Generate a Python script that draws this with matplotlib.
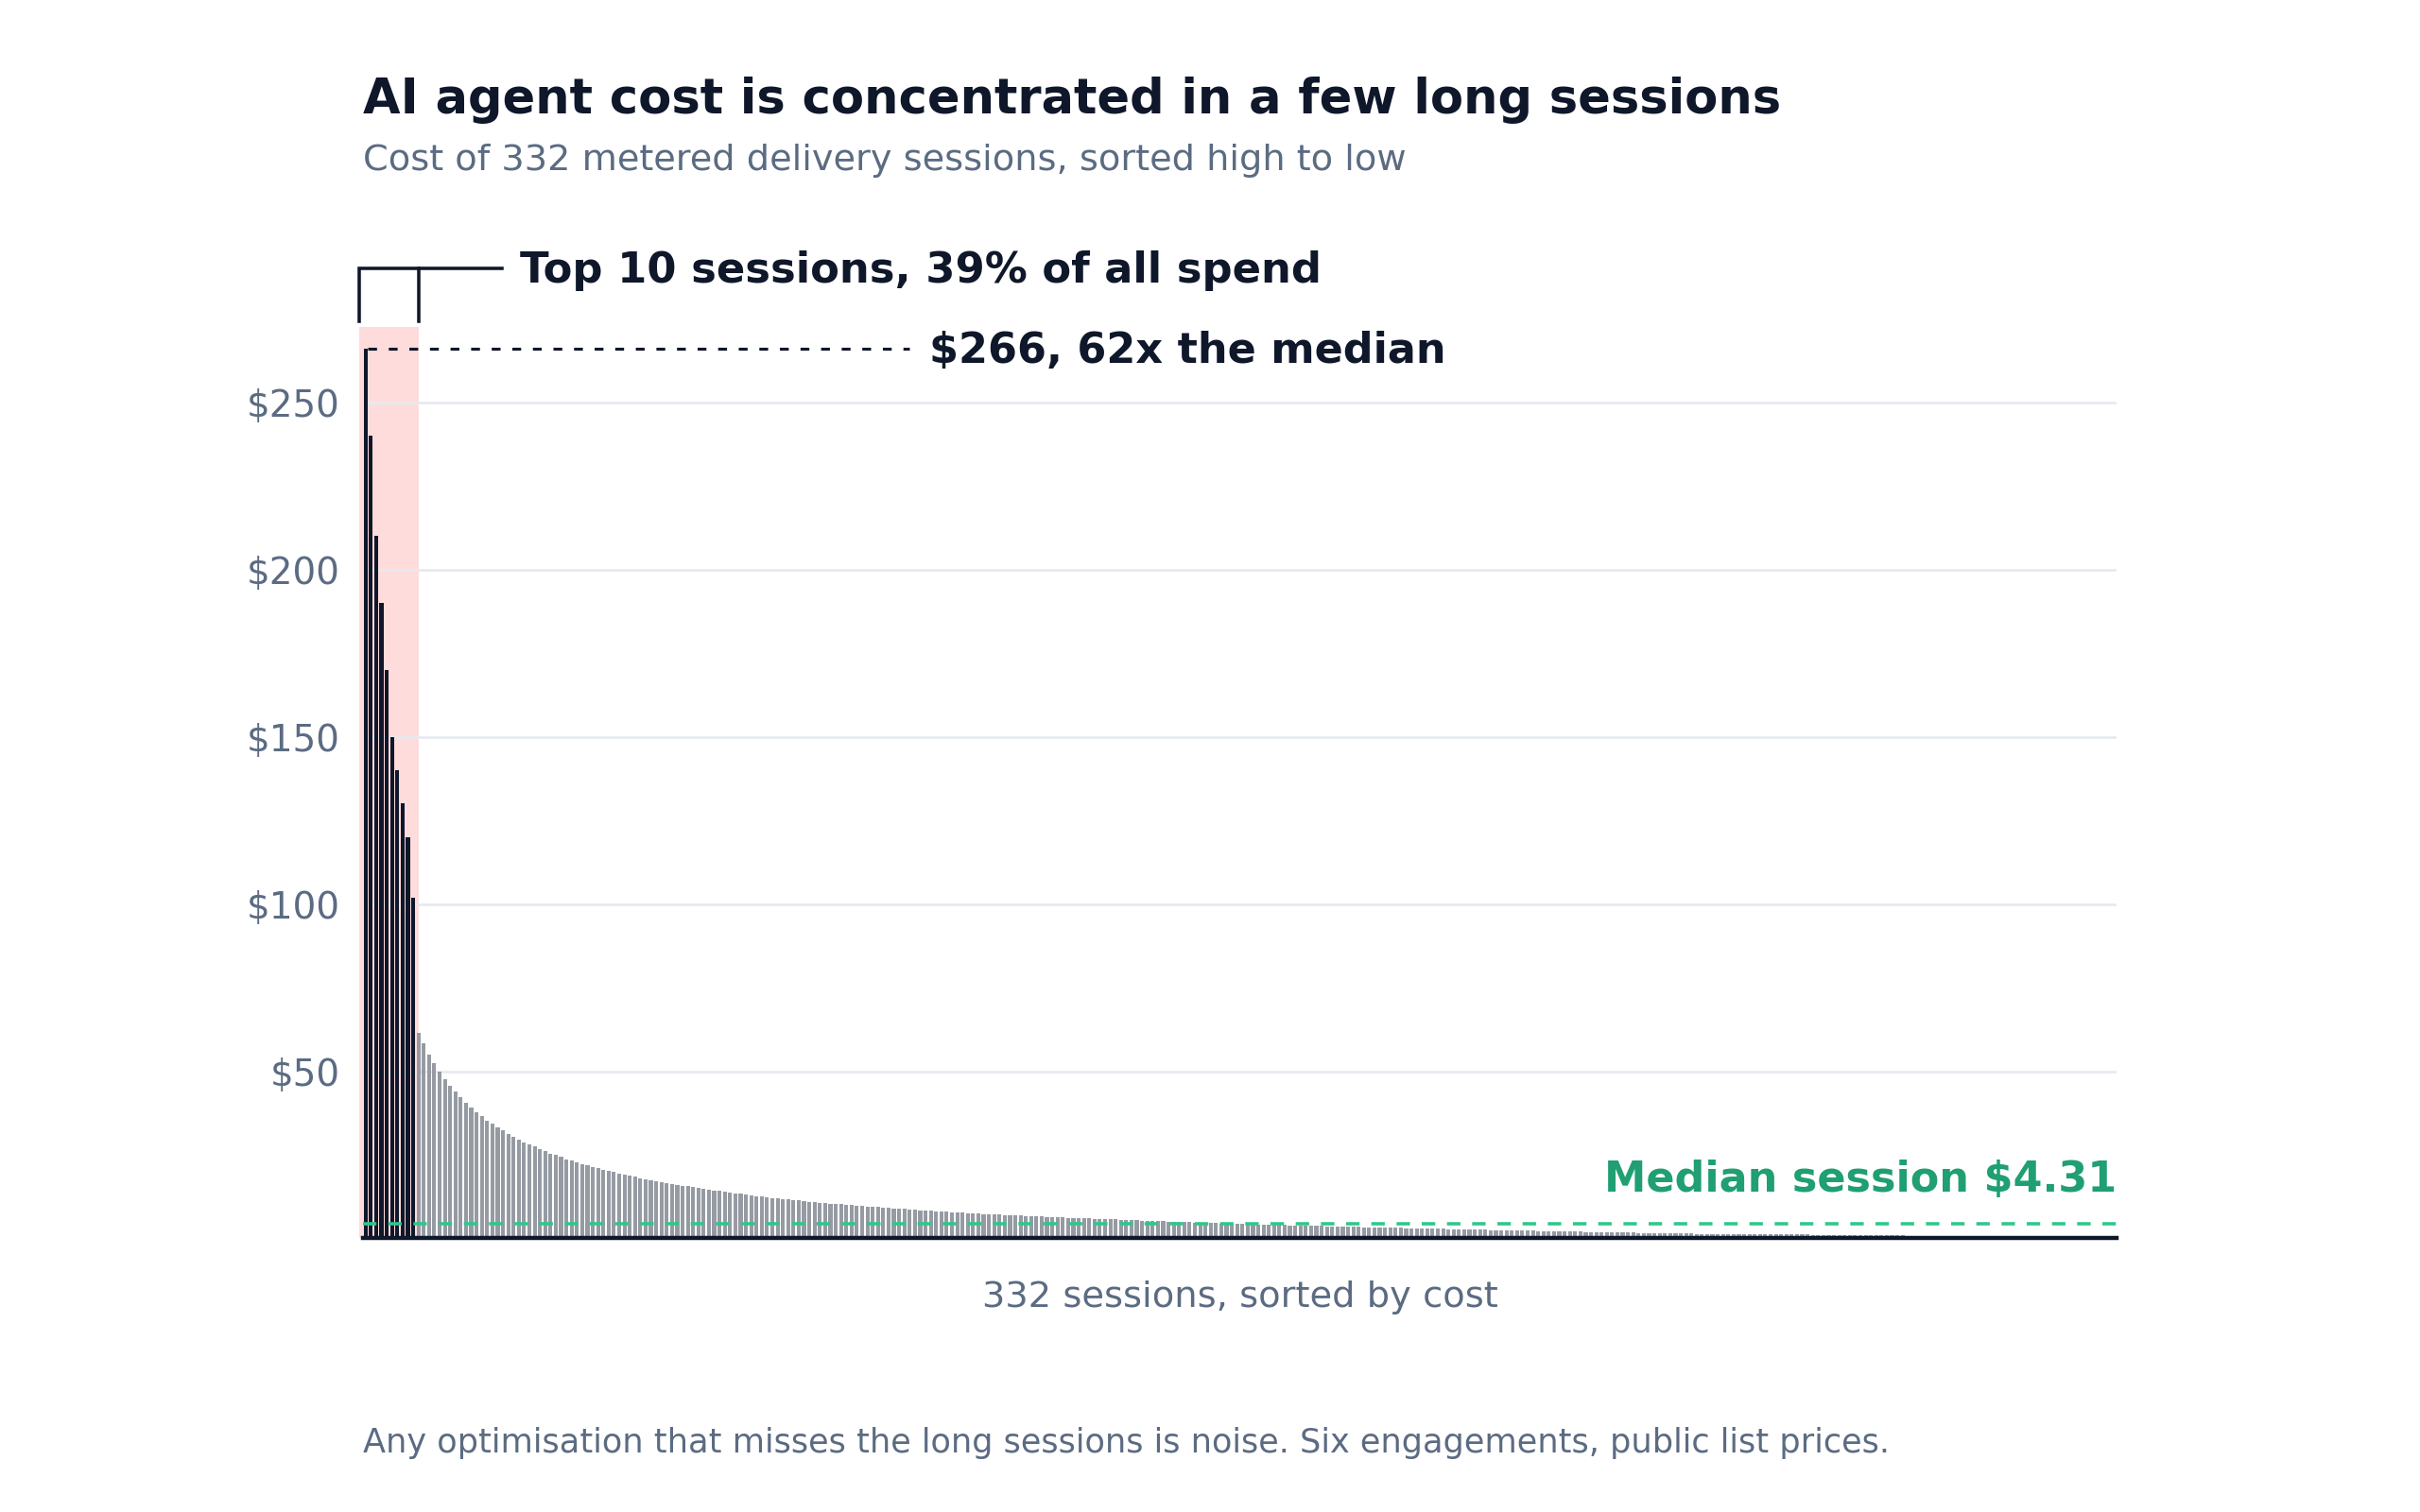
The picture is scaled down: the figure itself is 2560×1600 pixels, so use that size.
import numpy as np
import matplotlib
matplotlib.use("Agg")
import matplotlib.pyplot as plt

# cost per session in $, sorted high to low
top10_cost = [266, 240, 210, 190, 170, 150, 140, 130, 120, 102]
rest_cost = [
    61.5, 58.2, 55.0, 52.3, 49.8, 47.7, 45.6, 43.8, 42.1, 40.4,
    39.0, 37.6, 36.5, 35.3, 34.2, 33.2, 32.2, 31.3, 30.4, 29.6,
    28.8, 28.0, 27.4, 26.7, 26.1, 25.4, 24.9, 24.3, 23.7, 23.3,
    22.8, 22.3, 21.9, 21.4, 21.0, 20.5, 20.2, 19.8, 19.4, 19.0,
    18.7, 18.4, 18.0, 17.7, 17.4, 17.2, 16.9, 16.6, 16.3, 16.0,
    15.8, 15.6,
    15.28, 15.0, 14.81, 14.53, 14.34, 14.15, 13.87, 13.68, 13.49, 13.3,
    13.02, 12.83, 12.64, 12.45, 12.26, 12.08, 11.89, 11.79, 11.6, 11.42,
    11.32, 11.13, 10.94, 10.85, 10.66, 10.57, 10.38, 10.28, 10.19, 10.0,
    9.91, 9.81, 9.62, 9.53, 9.43, 9.34, 9.15, 9.06, 8.96, 8.87,
    8.77, 8.58, 8.49, 8.4, 8.3, 8.21, 8.11, 8.02, 7.92, 7.83,
    7.74,
    7.64, 7.56, 7.48, 7.40, 7.32, 7.24, 7.16, 7.08, 7.00, 6.92,
    6.85, 6.78, 6.71, 6.64, 6.57, 6.50, 6.43, 6.36, 6.30, 6.24,
    6.18, 6.12, 6.06, 6.00, 5.94, 5.88, 5.82, 5.76, 5.70, 5.64,
    5.58, 5.52, 5.46, 5.40, 5.34, 5.28, 5.22, 5.16, 5.10, 5.04,
    4.98, 4.92, 4.86, 4.80, 4.74, 4.68, 4.62, 4.56, 4.50, 4.45,
    4.41, 4.37, 4.33, 4.29,
    4.25, 4.21, 4.17, 4.13, 4.08, 4.04, 4.00, 3.96, 3.92, 3.88,
    3.83, 3.79, 3.75, 3.71, 3.67, 3.63, 3.58, 3.54, 3.50,
    3.46, 3.42, 3.38, 3.35, 3.31, 3.27, 3.24, 3.20, 3.16, 3.12,
    3.09, 3.05, 3.01, 2.98, 2.94, 2.90, 2.87, 2.83,
    2.80, 2.77, 2.73, 2.70, 2.67, 2.64, 2.61, 2.58, 2.55, 2.51,
    2.48, 2.45, 2.42, 2.39, 2.36, 2.32, 2.29, 2.26,
    2.23, 2.20, 2.17, 2.14, 2.11, 2.07, 2.04, 2.01, 1.98, 1.95,
    1.92, 1.89, 1.86, 1.83, 1.79, 1.76, 1.73, 1.70,
    1.67, 1.64, 1.61, 1.59, 1.56, 1.53, 1.50, 1.48, 1.45, 1.42,
    1.40, 1.39, 1.38, 1.36, 1.35, 1.34, 1.33, 1.31, 1.30, 1.29,
    1.28, 1.27, 1.26, 1.25, 1.24, 1.23, 1.22, 1.20,
    1.18, 1.17, 1.15, 1.14, 1.12, 1.11, 1.09, 1.08, 1.06, 1.05,
    1.03, 1.02, 1.00, 0.99, 0.98, 0.97, 0.95, 0.94,
    0.92, 0.90, 0.88, 0.86, 0.84, 0.82, 0.80, 0.78, 0.76, 0.74,
    0.72, 0.70, 0.68, 0.66, 0.64, 0.62, 0.60, 0.57,
    0.55, 0.53, 0.51, 0.49, 0.47, 0.45, 0.43, 0.42, 0.40, 0.39,
    0.37, 0.36, 0.34, 0.33, 0.31, 0.30, 0.29, 0.27, 0.26, 0.25,
    0.23, 0.22, 0.21, 0.20, 0.18, 0.17, 0.16, 0.15,
]
yticks = [50, 100, 150, 200, 250]
ytick_labels = ["$50", "$100", "$150", "$200", "$250"]

costs = np.array(top10_cost + rest_cost)
n = len(costs)
median = np.median(costs)
peak = costs[0]

DARK = "#0f172a"
SLATE = "#5b6b82"
GREY = "#969ba3"
PINK = "#ffdcdc"
GREEN_TXT = "#1f9f72"
GREEN_LINE = "#2cc88b"

plt.rcParams["font.family"] = ["DejaVu Sans"]

fig = plt.figure(figsize=(16, 10), dpi=160)
ax = fig.add_axes([0.15, 0.181, 0.7246, 0.603])

x = np.arange(n)
colors = [DARK if i < 10 else GREY for i in range(n)]
ax.bar(x, costs, width=0.74, color=colors, zorder=3)

# highlight the top 10
ax.axvspan(-1.2, 10.1, color=PINK, zorder=1, lw=0, clip_on=False)

ax.set_xlim(-0.5, n - 0.5)
ax.set_ylim(0, 272.7)
ax.set_yticks(yticks)
ax.set_yticklabels(ytick_labels)
ax.set_xticks([])
ax.tick_params(axis="y", length=0, pad=11, labelsize=17.5, labelcolor=SLATE)
ax.grid(axis="y", color="#e6eaf0", lw=1.2, zorder=0)
for s in ["top", "right", "left"]:
    ax.spines[s].set_visible(False)
ax.spines["bottom"].set_color(DARK)
ax.spines["bottom"].set_linewidth(2)
ax.spines["bottom"].set_zorder(5)

# median line
ax.axhline(median, color=GREEN_LINE, lw=1.6, ls=(0, (4, 3.5)), zorder=4)
ax.text(n - 0.5, 17.6, f"Median session ${median:.2f}", ha="right", va="center",
        fontsize=20, fontweight="bold", color=GREEN_TXT)

# peak annotation
ax.plot([0.4, 103], [peak, peak], color=DARK, lw=1.4, ls=(0, (3, 4)), zorder=4)
ax.text(106.7, peak - 0.5, f"${peak:.0f}, {peak / median:.0f}x the median", ha="left",
        va="center", fontsize=20, fontweight="bold", color=DARK)

# bracket over the top 10
bx0, bx1, by0, by1 = -1.2, 10.1, 274.4, 290.2
ax.plot([bx0, bx0, 25.8], [by0, by1, by1], color=DARK, lw=1.6, clip_on=False,
        solid_joinstyle="miter")
ax.plot([bx1, bx1], [by0, by1], color=DARK, lw=1.6, clip_on=False)
share = sum(top10_cost) / costs.sum() * 100
ax.text(29.2, by1 - 0.8, f"Top 10 sessions, {share:.0f}% of all spend", ha="left",
        va="center", fontsize=20.2, fontweight="bold", color=DARK)

ax.set_xlabel(f"{n} sessions, sorted by cost", fontsize=17.25, color=SLATE, labelpad=20)

fig.text(0.15, 0.9335, "AI agent cost is concentrated in a few long sessions",
         fontsize=23, fontweight="bold", color=DARK, va="center")
fig.text(0.15, 0.8935, f"Cost of {n} metered delivery sessions, sorted high to low",
         fontsize=17.2, color=SLATE, va="center")
fig.text(0.15, 0.0456,
         "Any optimisation that misses the long sessions is noise. Six engagements, public list prices.",
         fontsize=15.8, color=SLATE, va="center")

fig.savefig("out.png", dpi=160, facecolor="white")
